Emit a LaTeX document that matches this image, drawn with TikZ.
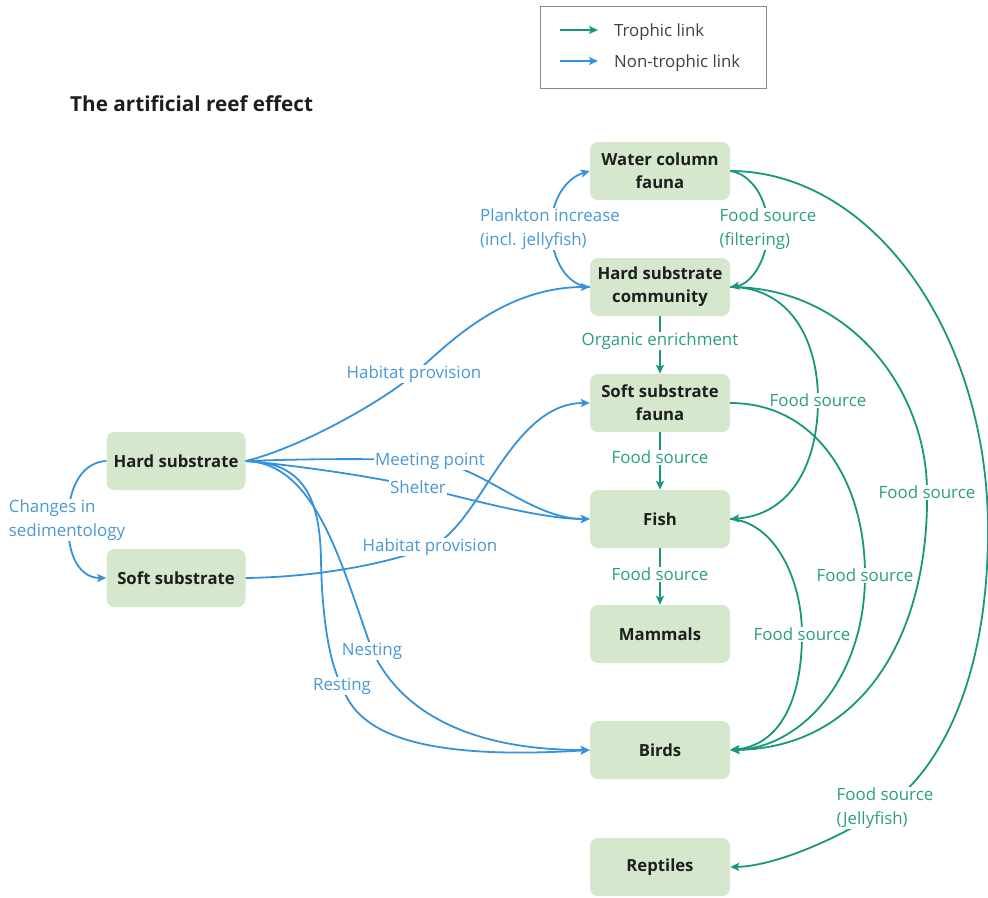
\documentclass[tikz,border=0pt]{standalone}
\usepackage{fontspec}
\setmainfont{Open Sans}
\usetikzlibrary{arrows.meta}

\definecolor{trophic}{HTML}{18977A}
\definecolor{trophictext}{HTML}{2A9E82}
\definecolor{nontrophic}{HTML}{3692DB}
\definecolor{nontrophictext}{HTML}{4A98D4}
\definecolor{boxfill}{HTML}{D5E8CE}
\definecolor{ink}{HTML}{1E1E1E}
\definecolor{legendframe}{HTML}{8A8A8A}

\begin{document}
\begin{tikzpicture}[x=1pt,y=-1pt,
  box/.style={fill=boxfill, rounded corners=8pt, minimum width=140pt,
    minimum height=58pt, align=center, text=ink, inner sep=2pt,
    font=\fontsize{16.7}{23}\selectfont\bfseries},
  tip/.style={-{Stealth[length=9pt,width=8pt,inset=2pt]}},
  troph/.style={draw=trophic, line width=1.8pt, tip},
  nontroph/.style={draw=nontrophic, line width=1.8pt, tip},
  tlbl/.style={fill=white, text=trophictext, inner sep=1pt, align=left,
    font=\fontsize{16.9}{24}\selectfont},
  nlbl/.style={fill=white, text=nontrophictext, inner sep=1pt, align=left,
    font=\fontsize{16.9}{24}\selectfont},
  legtext/.style={anchor=west, text=ink!85, inner sep=0pt,
    font=\fontsize{16.8}{20}\selectfont},
]
\useasboundingbox (0,0) rectangle (988,897);

% ---------- title and legend ----------
\node[anchor=west, inner sep=0pt, text=ink, font=\fontsize{20.7}{25}\selectfont\bfseries]
  (title) at (70,104) {The artificial reef effect};

\node[draw=legendframe, line width=0.8pt, minimum width=226pt, minimum height=82pt,
  inner sep=0pt] (legend) at (653,47) {};
\coordinate (tA) at (560,30);
\coordinate (tB) at (598,30);
\coordinate (nA) at (560,61);
\coordinate (nB) at (598,61);
\draw[troph] (tA) -- (tB);
\draw[nontroph] (nA) -- (nB);
\node[legtext] (tlegend) at (614,32) {Trophic link};
\node[legtext] (nlegend) at (614,63) {Non-trophic link};

% ---------- boxes ----------
\node[box] (wcf) at (660,171) {Water column\\fauna};
\node[box] (hsc) at (660,287) {Hard substrate\\community};
\node[box] (ssf) at (660,403) {Soft substrate\\fauna};
\node[box] (fish) at (660,519) {Fish};
\node[box] (mam) at (660,634) {Mammals};
\node[box] (birds) at (660,750) {Birds};
\node[box] (rept) at (660,867) {Reptiles};
\node[box, minimum width=139pt] (hs) at (176,461) {Hard substrate};
\node[box, minimum width=139pt] (ss) at (176,578) {Soft substrate};

% ---------- non-trophic links ----------
\draw[nontroph] (hsc.west) .. controls (568,286) and (552,262) .. (551,229)
  .. controls (551,200) and (566,178) .. (wcf.west);
\draw[nontroph] (hs.east) .. controls (300,448) and (383,401) .. (413,375)
  .. controls (443,349) and (500,287) .. (hsc.west);
\draw[nontroph] (hs.east) .. controls (300,459) and (380,458) .. (430,461)
  .. controls (480,464) and (530,519) .. (fish.west);
\draw[nontroph] (hs.east) .. controls (300,466) and (370,476) .. (418,487)
  .. controls (470,499) and (540,519) .. (fish.west);
\draw[nontroph] (hs.east) .. controls (315,463) and (340,560) .. (372,650)
  .. controls (390,690) and (440,750) .. (birds.west);
\draw[nontroph] (hs.east) .. controls (305,462) and (320,500) .. (321,560)
  .. controls (322,620) and (330,665) .. (342,686)
  .. controls (355,725) and (400,762) .. (birds.west);
\draw[nontroph] (ss.east) .. controls (320,577) and (390,563) .. (430,547)
  .. controls (480,527) and (510,403) .. (ssf.west);
\draw[nontroph] (hs.west) .. controls (85,462) and (69,482) .. (68,520)
  .. controls (67,556) and (80,578) .. (ss.west);

% ---------- trophic links ----------
\draw[troph] (hsc.south) -- (ssf.north);
\draw[troph] (ssf.south) -- (fish.north);
\draw[troph] (fish.south) -- (mam.north);
\draw[troph] (wcf.east) .. controls (752,174) and (768,200) .. (768,229)
  .. controls (768,258) and (752,284) .. (hsc.east);
\draw[troph] (wcf.east) .. controls (870,171) and (988,330) .. (988,530)
  .. controls (988,680) and (940,770) .. (885,808)
  .. controls (850,832) and (780,866) .. (rept.east);
\draw[troph] (hsc.east) .. controls (790,287) and (818,340) .. (818,400)
  .. controls (818,465) and (790,515) .. (fish.east);
\draw[troph] (hsc.east) .. controls (850,287) and (927,390) .. (927,492)
  .. controls (929,630) and (866,748) .. (birds.east);
\draw[troph] (ssf.east) .. controls (815,403) and (865,480) .. (865,575)
  .. controls (865,680) and (800,748) .. (birds.east);
\draw[troph] (fish.east) .. controls (775,522) and (802,580) .. (802,634)
  .. controls (802,700) and (780,745) .. (birds.east);

% ---------- link labels ----------
\node[nlbl] (lplank) at (550,229) {Plankton increase\\(incl. jellyfish)};
\node[nlbl] (lhab1) at (414,374) {Habitat provision};
\node[nlbl] (lmeet) at (430,461) {Meeting point};
\node[nlbl] (lshel) at (418,487) {Shelter};
\node[nlbl] (lhab2) at (430,547) {Habitat provision};
\node[nlbl] (lnest) at (372,651) {Nesting};
\node[nlbl] (lrest) at (342,686) {Resting};
\node[nlbl] (lsed) at (67,520) {Changes in\\sedimentology};

\node[tlbl] (lfilt) at (768,229) {Food source\\(filtering)};
\node[tlbl] (lorg) at (660,341) {Organic enrichment};
\node[tlbl] (lfs1) at (660,457) {Food source};
\node[tlbl] (lfs2) at (660,574) {Food source};
\node[tlbl] (lfs3) at (818,400) {Food source};
\node[tlbl] (lfs4) at (927,492) {Food source};
\node[tlbl] (lfs5) at (865,575) {Food source};
\node[tlbl] (lfs6) at (802,634) {Food source};
\node[tlbl] (ljelly) at (885,808) {Food source\\(Jellyfish)};
\end{tikzpicture}
\end{document}
